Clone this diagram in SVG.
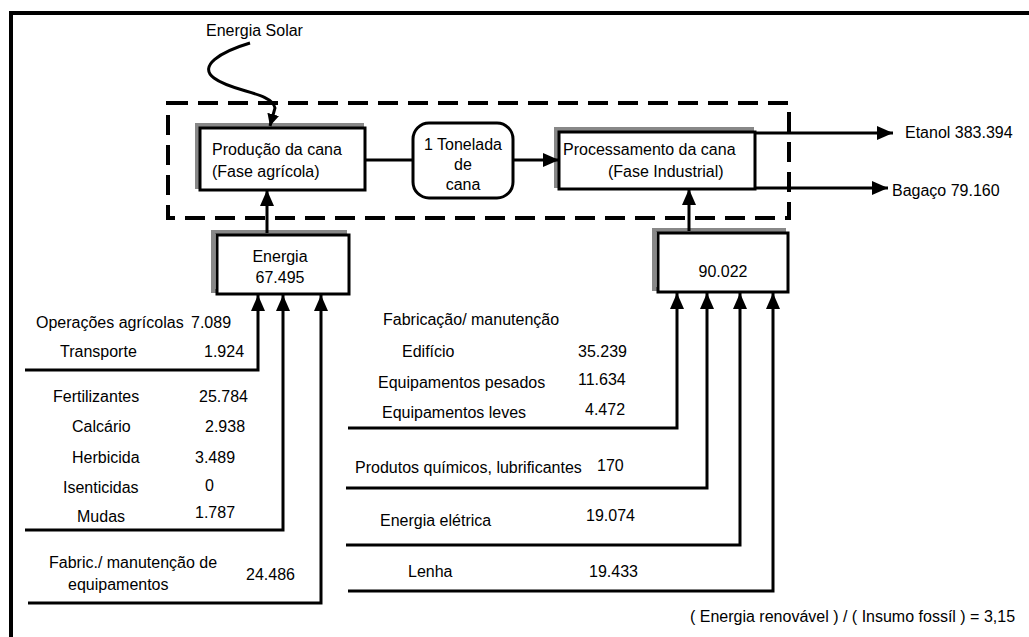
<svg xmlns="http://www.w3.org/2000/svg" width="1029" height="637" viewBox="0 0 1029 637">
<defs>
<style>
text{font-family:"Liberation Sans",Arial,sans-serif;font-size:16px;fill:#000}
.m{text-anchor:middle}
.box{fill:#fff;stroke:#000;stroke-width:3}
.sh{fill:none;stroke:#888;stroke-width:4}
.c{fill:none;stroke:#000;stroke-width:3}
.dash{fill:none;stroke:#000;stroke-width:4;stroke-dasharray:20 10}
</style>
<marker id="ah" markerWidth="16" markerHeight="14" refX="16" refY="7" orient="auto" markerUnits="userSpaceOnUse"><path d="M0,0 L16,7 L0,14 z" fill="#000"/></marker>
<marker id="ahs" markerWidth="12" markerHeight="12" refX="12" refY="6" orient="auto" markerUnits="userSpaceOnUse"><path d="M0,0 L12,6 L0,12 z" fill="#000"/></marker>
</defs>
<rect width="1029" height="637" fill="#fff"/>
<path d="M11,637 V13 H1029" fill="none" stroke="#000" stroke-width="4"/>

<g id="system">
<rect class="dash" x="168" y="103" width="621" height="115"/>
</g>

<g id="solar">
<text x="206" y="36">Energia Solar</text>
</g>

<g id="producao">
<rect class="sh" x="197" y="125" width="165" height="62"/>
<rect class="box" x="200" y="128" width="165" height="62"/>
<text x="212" y="155">Produção da cana</text>
<text x="212" y="177">(Fase agrícola)</text>
</g>

<g id="tonelada">
<rect class="box" x="413" y="123" width="100" height="75" rx="16"/>
<text class="m" x="463" y="150">1 Tonelada</text>
<text class="m" x="463" y="170">de</text>
<text class="m" x="463" y="190">cana</text>
</g>

<g id="processamento">
<rect class="sh" x="556" y="129" width="196" height="57"/>
<rect class="box" x="559" y="132" width="196" height="57"/>
<text x="563" y="155">Processamento da cana</text>
<text x="608" y="177">(Fase Industrial)</text>
</g>

<g id="energia">
<rect class="sh" x="213" y="232" width="132" height="59"/>
<rect class="box" x="217" y="235" width="132" height="59"/>
<text class="m" x="280" y="262">Energia</text>
<text class="m" x="280" y="283">67.495</text>
</g>

<g id="industrial">
<rect class="sh" x="654" y="230" width="130" height="59"/>
<rect class="box" x="658" y="233" width="130" height="59"/>
<text class="m" x="723" y="277">90.022</text>
</g>

<g id="outputs">
<text x="905" y="138">Etanol 383.394</text>
<text x="892" y="196">Bagaço 79.160</text>
</g>

<g id="agri-inputs">
<text x="36" y="328">Operações agrícolas</text>
<text x="191" y="328">7.089</text>
<text x="60" y="357">Transporte</text>
<text x="204" y="357">1.924</text>
<text x="53" y="402">Fertilizantes</text>
<text x="199" y="402">25.784</text>
<text x="72" y="432">Calcário</text>
<text x="205" y="432">2.938</text>
<text x="72" y="463">Herbicida</text>
<text x="195" y="463">3.489</text>
<text x="63" y="493">Isenticidas</text>
<text x="205" y="491">0</text>
<text x="77" y="522">Mudas</text>
<text x="195" y="518">1.787</text>
<text x="49" y="568">Fabric./ manutenção de</text>
<text x="68" y="590">equipamentos</text>
<text x="246" y="580">24.486</text>
</g>

<g id="ind-inputs">
<text x="383" y="325">Fabricação/ manutenção</text>
<text x="402" y="357">Edifício</text>
<text x="578" y="357">35.239</text>
<text x="378" y="388">Equipamentos pesados</text>
<text x="578" y="385">11.634</text>
<text x="382" y="418">Equipamentos leves</text>
<text x="585" y="415">4.472</text>
<text x="355" y="473">Produtos químicos, lubrificantes</text>
<text x="597" y="471">170</text>
<text x="380" y="526">Energia elétrica</text>
<text x="586" y="521">19.074</text>
<text x="408" y="577">Lenha</text>
<text x="589" y="577">19.433</text>
<text x="690" y="622">( Energia renovável ) / ( Insumo fossíl ) = 3,15</text>
</g>

<g id="connectors">
<path class="c" d="M250,43 C220,52 198,66 214,78 C232,92 272,92 275,108 L270,126" marker-end="url(#ahs)"/>
<path class="c" d="M365,160 H413"/>
<path class="c" d="M513,160 H559" marker-end="url(#ah)"/>
<path class="c" d="M267,233 V190" marker-end="url(#ah)"/>
<path class="c" d="M689,231 V189" marker-end="url(#ah)"/>
<path class="c" d="M755,133 H893" marker-end="url(#ah)"/>
<path class="c" d="M755,188 H888" marker-end="url(#ah)"/>
<path class="c" d="M25,370 H258 V295" marker-end="url(#ah)"/>
<path class="c" d="M25,530 H283 V295" marker-end="url(#ah)"/>
<path class="c" d="M28,603 H321 V295" marker-end="url(#ah)"/>
<path class="c" d="M348,428 H677 V293" marker-end="url(#ah)"/>
<path class="c" d="M346,488 H707 V293" marker-end="url(#ah)"/>
<path class="c" d="M346,545 H740 V293" marker-end="url(#ah)"/>
<path class="c" d="M348,591 H773 V293" marker-end="url(#ah)"/>
</g>
</svg>
